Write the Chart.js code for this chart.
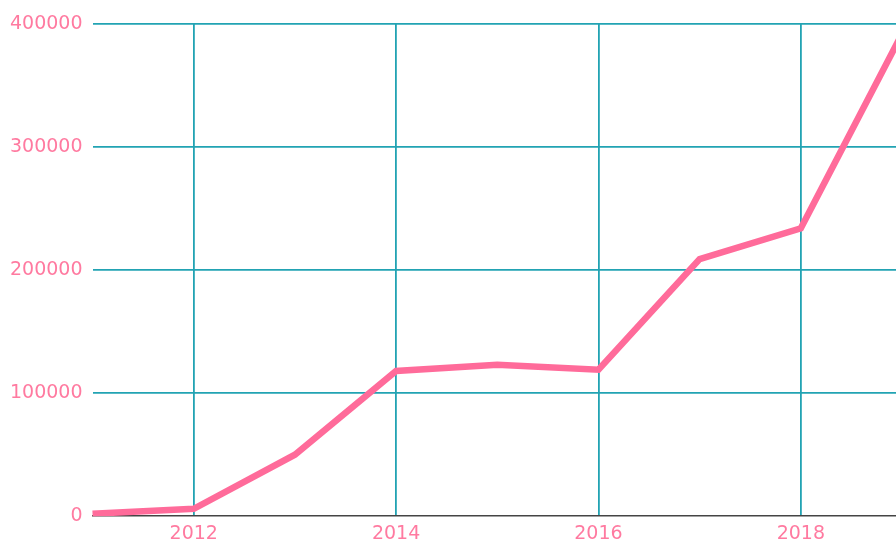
<!DOCTYPE html>
<html>
<head>
<meta charset="utf-8">
<script src="https://cdn.jsdelivr.net/npm/chart.js@4"></script>
<style>
  html, body { margin: 0; padding: 0; background: #fff; overflow: hidden; }
  #wrap { width: 912px; height: 551px; }
</style>
</head>
<body>
<div id="wrap"><canvas id="lineChart"></canvas></div>
<script>
// values
const years = ['2011', '2012', '2013', '2014', '2015', '2016', '2017', '2018', '2019'];
const totals = [2000, 6000, 50000, 118000, 123000, 119000, 209000, 234000, 392000];
const yTicks = [0, 100000, 200000, 300000, 400000];

const pink = '#ff6b9a';
const labelPink = '#ff7aa0';
const teal = '#22a3b3';

const ctx = document.getElementById('lineChart').getContext('2d');

new Chart(ctx, {
    type: 'line',
    data: {
        labels: years,
        datasets: [{
            data: totals,
            borderColor: pink,
            borderWidth: 6.5,
            pointRadius: 0,
            tension: 0,
            fill: false
        }]
    },
    options: {
        responsive: true,
        maintainAspectRatio: false,
        animation: false,
        layout: { padding: { left: 0, right: 10, top: 24, bottom: 0 } },
        plugins: {
            legend: { display: false },
            tooltip: { enabled: false }
        },
        scales: {
            x: {
                offset: false,
                grid: {
                    drawTicks: false,
                    lineWidth: 1.8,
                    color: function (c) {
                        const y = Number(years[c.index]);
                        return (c.index > 0 && y % 2 === 0) ? teal : 'rgba(0,0,0,0)';
                    }
                },
                border: { display: true, color: '#444', width: 1.5 },
                ticks: {
                    autoSkip: false,
                    maxRotation: 0,
                    padding: 6,
                    color: labelPink,
                    font: { family: 'DejaVu Sans', size: 19 },
                    callback: function (v, i) {
                        const y = Number(years[i]);
                        return (i > 0 && y % 2 === 0) ? years[i] : '';
                    }
                }
            },
            y: {
                min: yTicks[0],
                max: yTicks[yTicks.length - 1],
                grid: {
                    drawTicks: false,
                    lineWidth: 1.8,
                    color: function (c) { return c.tick.value === 0 ? 'rgba(0,0,0,0)' : teal; }
                },
                border: { display: false },
                afterBuildTicks: function (axis) {
                    axis.ticks = yTicks.map(function (v) { return { value: v }; });
                },
                ticks: {
                    padding: 10,
                    color: labelPink,
                    font: { family: 'DejaVu Sans', size: 19 },
                    callback: function (v) { return String(v); }
                }
            }
        }
    }
});
</script>
</body>
</html>
